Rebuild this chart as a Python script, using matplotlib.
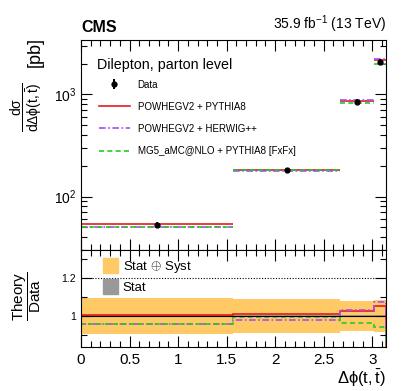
import numpy as np
import matplotlib
matplotlib.use("Agg")
import matplotlib.pyplot as plt
from matplotlib.lines import Line2D
from matplotlib.patches import Patch
from matplotlib.ticker import MultipleLocator, FixedLocator, NullFormatter, LogLocator, FuncFormatter

plt.rcParams['font.family'] = ['Liberation Sans', 'DejaVu Sans']
plt.rcParams['mathtext.fontset'] = 'custom'
plt.rcParams['mathtext.rm'] = 'Liberation Sans'
plt.rcParams['mathtext.it'] = 'Liberation Sans'
plt.rcParams['mathtext.bf'] = 'Liberation Sans:bold'

# ---- data ----
bin_edges = [0.0, 1.57, 2.67, 3.02, np.pi]
data_vals = [53.0, 182.0, 847.0, 2080.0]
data_err = [3.5, 9.0, 45.0, 120.0]
powheg_pythia = [53.4, 183.8, 868.0, 2184.0]
powheg_herwig = [50.8, 178.4, 872.0, 2232.0]
mg5_pythia = [50.8, 180.7, 817.0, 1964.0]
rel_total_unc = [0.093, 0.088, 0.080, 0.085]
rel_stat_unc = [0.004, 0.004, 0.005, 0.006]

series = [
    ("POWHEGV2 + PYTHIA8", powheg_pythia, "#e8191c", "-"),
    ("POWHEGV2 + HERWIG++", powheg_herwig, "#a64dff", (0, (4, 1.5, 1, 1.5))),
    ("MG5_aMC@NLO + PYTHIA8 [FxFx]", mg5_pythia, "#22cc22", (0, (3, 2))),
]

edges = np.array(bin_edges)
centers = 0.5 * (edges[:-1] + edges[1:])
data = np.array(data_vals)

W, H = 407, 391
fig = plt.figure(figsize=(W / 100, H / 100), dpi=100)
L, R = 81 / W, 386 / W
ax = fig.add_axes([L, 1 - 250 / H, R - L, (250 - 40) / H])
axr = fig.add_axes([L, 1 - 347 / H, R - L, (347 - 250) / H], sharex=ax)

# main panel
for name, vals, col, ls in series:
    ax.hlines(vals, edges[:-1], edges[1:], colors=col, linestyles=ls, lw=1.2)
ax.errorbar(centers, data, yerr=data_err, fmt='o', color='black', ms=3.5,
            elinewidth=1.2, capsize=0, zorder=5)
ax.set_yscale('log')
ax.set_ylim(30, 3400)
ax.set_xlim(0, np.pi)
ax.yaxis.set_major_locator(LogLocator(base=10, numticks=10))
ax.yaxis.set_minor_locator(LogLocator(base=10, subs=np.arange(2, 10), numticks=10))
ax.yaxis.set_minor_formatter(NullFormatter())
ax.xaxis.set_major_locator(MultipleLocator(0.5))
ax.xaxis.set_minor_locator(MultipleLocator(0.1))
ax.tick_params(axis='x', labelbottom=False)
for a in (ax, axr):
    a.tick_params(which='both', direction='in', top=True, right=True, labelsize=10)
    a.tick_params(which='major', length=8, width=0.8)
    a.tick_params(which='minor', length=4, width=0.8)
ax.tick_params(axis='y', labelsize=10, pad=3)

# y label of main panel (fraction + unit)
fig.text(26 / W, 1 - 107 / H, r'$\dfrac{d\sigma}{d\Delta\phi(t,\bar{t})}$', rotation=90,
         ha='center', va='center', fontsize=10)
fig.text(35 / W, 1 - 52 / H, '[pb]', rotation=90, ha='center', va='center', fontsize=13)

ax.text(0.0, 1.025, 'CMS', transform=ax.transAxes, fontsize=11.5, fontweight='bold', ha='left', va='bottom')
ax.text(1.0, 1.025, r'35.9 fb$^{-1}$ (13 TeV)', transform=ax.transAxes, fontsize=10, ha='right', va='bottom')
ax.text(0.052, 0.88, 'Dilepton, parton level', transform=ax.transAxes, fontsize=10.3, ha='left', va='center')

eb = ax.errorbar([], [], yerr=[], fmt='o', color='black', ms=3.5, capsize=0)
handles = [eb]
labels = ['Data']
for name, vals, col, ls in series:
    handles.append(Line2D([], [], color=col, ls=ls, lw=1.2))
    labels.append(name)
ax.legend(handles, labels, loc='upper left', bbox_to_anchor=(0.045, 0.83), frameon=False,
          fontsize=7, handlelength=3.2, labelspacing=1.25, handletextpad=0.8, borderaxespad=0)

# ratio panel
tot = np.array(rel_total_unc)
st = np.array(rel_stat_unc)
axr.stairs(1 + tot, edges, baseline=1 - tot, fill=True, color='#ffc966', lw=0)
axr.stairs(1 + st, edges, baseline=1 - st, fill=True, color='#999999', lw=0)
axr.axhline(1.0, color='black', lw=0.8)
axr.axhline(1.2, color='black', lw=0.8, ls=(0, (1, 1.5)))
for name, vals, col, ls in series:
    axr.stairs(np.array(vals) / data, edges, color=col, ls=ls, lw=1.2)
axr.set_ylim(0.837, 1.347)
axr.yaxis.set_major_locator(FixedLocator([1.0, 1.2]))
axr.yaxis.set_minor_locator(FixedLocator([0.9, 1.1, 1.3]))
axr.yaxis.set_major_formatter(FuncFormatter(lambda v, p: f'{v:g}'))
axr.xaxis.set_major_formatter(FuncFormatter(lambda v, p: f'{v:g}'))
axr.tick_params(axis='y', labelsize=7.5)
axr.tick_params(axis='x', labelsize=11, pad=4)
fig.text(27 / W, 1 - 296 / H, r'$\dfrac{\mathrm{Theory}}{\mathrm{Data}}$', rotation=90,
         ha='center', va='center', fontsize=11)
axr.set_xlabel(r'$\Delta\phi(t,\bar{t})$', fontsize=12, loc='right', labelpad=1)

rh = [Patch(color='#ffc966'), Patch(color='#999999')]
axr.legend(rh, [r'Stat $\oplus$ Syst', 'Stat'], loc='upper left', bbox_to_anchor=(0.055, 0.975),
           frameon=False, fontsize=9.5, handlelength=1.1, handleheight=1.4, labelspacing=0.3,
           handletextpad=0.4, borderaxespad=0)

fig.savefig('out.png', dpi=100)
